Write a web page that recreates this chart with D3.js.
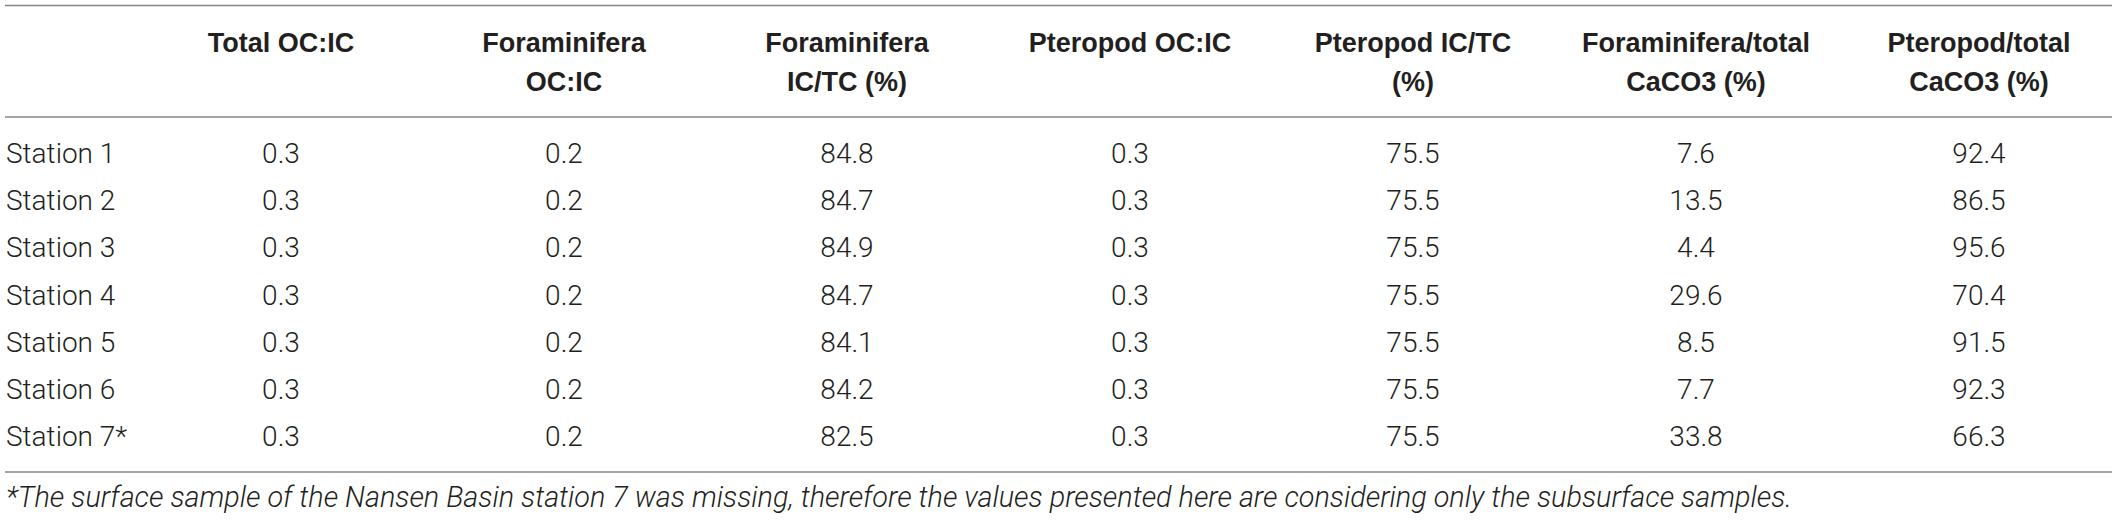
<!DOCTYPE html>
<html>
<head>
<meta charset="utf-8">
<script src="https://cdn.jsdelivr.net/npm/d3@7"></script>
<style>
  html, body { margin: 0; padding: 0; background: #fff; }
  svg { display: block; }
</style>
</head>
<body>
<div id="table"></div>
<script>
// Table content
const stations = ["Station 1", "Station 2", "Station 3", "Station 4", "Station 5", "Station 6", "Station 7*"];
const columnKeys = ["totalOCIC", "foramOCIC", "foramICTC", "pteroOCIC", "pteroICTC", "foramCaCO3", "pteroCaCO3"];
const headerLines = [
    ["Total OC:IC"],
    ["Foraminifera", "OC:IC"],
    ["Foraminifera", "IC/TC (%)"],
    ["Pteropod OC:IC"],
    ["Pteropod IC/TC", "(%)"],
    ["Foraminifera/total", "CaCO3 (%)"],
    ["Pteropod/total", "CaCO3 (%)"]
];
const totalOCIC  = [0.3, 0.3, 0.3, 0.3, 0.3, 0.3, 0.3];
const foramOCIC  = [0.2, 0.2, 0.2, 0.2, 0.2, 0.2, 0.2];
const foramICTC  = [84.8, 84.7, 84.9, 84.7, 84.1, 84.2, 82.5];
const pteroOCIC  = [0.3, 0.3, 0.3, 0.3, 0.3, 0.3, 0.3];
const pteroICTC  = [75.5, 75.5, 75.5, 75.5, 75.5, 75.5, 75.5];
const foramCaCO3 = [7.6, 13.5, 4.4, 29.6, 8.5, 7.7, 33.8];
const pteroCaCO3 = [92.4, 86.5, 95.6, 70.4, 91.5, 92.3, 66.3];
const footnote = "*The surface sample of the Nansen Basin station 7 was missing, therefore the values presented here are considering only the subsurface samples.";

const values = [totalOCIC, foramOCIC, foramICTC, pteroOCIC, pteroICTC, foramCaCO3, pteroCaCO3];

// Dimensions
const width = 2117, height = 520;
const headFont = "'Liberation Sans', Arial, Helvetica, sans-serif";
const bodyFont = "Roboto, 'Liberation Sans', Arial, sans-serif";

const svg = d3.select("#table")
    .append("svg")
    .attr("width", width)
    .attr("height", height);

// Column and row positions
const x = d3.scalePoint()
    .domain(columnKeys)
    .range([281, 1979]);

const y = d3.scalePoint()
    .domain(stations)
    .range([163, 446]);

const headerY = [52, 91];

// Horizontal rules
const rules = [5.5, 117, 472];
svg.selectAll(".rule")
    .data(rules)
    .join("line")
    .attr("class", "rule")
    .attr("x1", 5)
    .attr("x2", 2112)
    .attr("y1", d => d)
    .attr("y2", d => d)
    .attr("stroke", "#858585")
    .attr("stroke-width", 1.5);

// Header cells
const headers = svg.append("g")
    .selectAll("text")
    .data(columnKeys)
    .join("text")
    .attr("x", d => x(d))
    .attr("text-anchor", "middle")
    .style("font-family", headFont)
    .style("font-weight", "bold")
    .style("font-size", "27px")
    .attr("fill", "#231f20");

headers.selectAll("tspan")
    .data((d, i) => headerLines[i])
    .join("tspan")
    .attr("x", function() { return x(d3.select(this.parentNode).datum()); })
    .attr("y", (d, i) => headerY[i])
    .text(d => d);

// Row labels
svg.append("g")
    .selectAll("text")
    .data(stations)
    .join("text")
    .attr("x", 6)
    .attr("y", d => y(d))
    .style("font-family", bodyFont)
    .style("font-weight", 300)
    .style("font-size", "28px")
    .attr("fill", "#231f20")
    .text(d => d);

// Value cells
const fmt = d3.format(".1f");
const cells = [];
columnKeys.forEach((key, c) => {
    stations.forEach((st, r) => {
        cells.push({key: key, station: st, value: values[c][r]});
    });
});

svg.append("g")
    .selectAll("text")
    .data(cells)
    .join("text")
    .attr("x", d => x(d.key))
    .attr("y", d => y(d.station))
    .attr("text-anchor", "middle")
    .style("font-family", bodyFont)
    .style("font-weight", 300)
    .style("font-size", "28px")
    .attr("fill", "#231f20")
    .text(d => fmt(d.value));

// Footnote
svg.append("text")
    .attr("x", 6)
    .attr("y", 507)
    .style("font-family", bodyFont)
    .style("font-style", "italic")
    .style("font-weight", 300)
    .style("font-size", "28.8px")
    .attr("fill", "#231f20")
    .text(footnote);
</script>
</body>
</html>
